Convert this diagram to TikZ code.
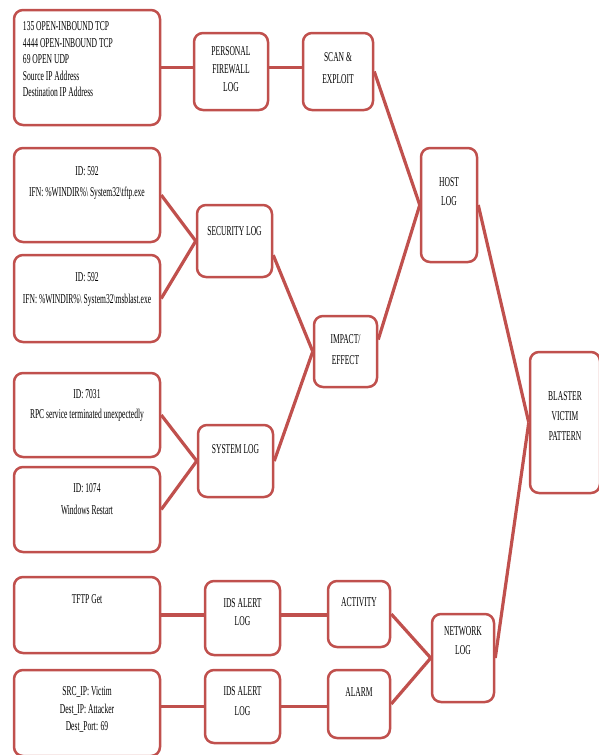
\documentclass[tikz,border=0pt]{standalone}
\usepackage{fontspec}
\setmainfont[FakeStretch=0.56]{Liberation Serif}
\newcommand{\logtxt}[4][15pt]{\parbox[c][#2][t]{#3}{\centering\vspace*{#1}#4}}
\definecolor{boxred}{RGB}{192,80,77}

\begin{document}
\begin{tikzpicture}[x=1pt,y=-1pt, font=\fontsize{13.5}{20}\selectfont,
log/.style = {draw=boxred, line width=2.5pt, rounded corners=9pt, inner sep=0pt, fill=white},
link/.style = {draw=boxred, line width=3.2pt}]

    \useasboundingbox (0,0) rectangle (598,755);

    \node[log](1) at (87,67.5) {\parbox[c][115pt][t]{146pt}{\raggedright\leftskip=9pt\baselineskip=16.5pt\vspace*{12pt}135 OPEN-INBOUND TCP\\4444 OPEN-INBOUND TCP\\69 OPEN UDP\\Source IP Address\\Destination IP Address}};
    \node[log](2) at (231,71.5) {\logtxt[14pt]{77pt}{74pt}{PERSONAL\\[-2pt]FIREWALL\\[-2pt]LOG}};
    \node[log](3) at (338,71.5) {\logtxt[20pt]{77pt}{70pt}{SCAN \&\\[2pt]EXPLOIT}};
    \node[log](4) at (449,205) {\logtxt[30pt]{114pt}{56pt}{HOST\\[-1pt]LOG}};

    \node[log](5) at (87,195) {\logtxt[19pt]{94pt}{146pt}{ID: 592\\[1pt]IFN: \%WINDIR\%\textbackslash{} System32\textbackslash tftp.exe}};
    \node[log](6) at (87,298.5) {\logtxt[18pt]{87pt}{146pt}{ID: 592\\[2pt]IFN: \%WINDIR\%\textbackslash{} System32\textbackslash msblast.exe}};
    \node[log](7) at (234.5,241) {\logtxt[22pt]{72pt}{75pt}{SECURITY LOG}};

    \node[log](8) at (87,415) {\logtxt[17pt]{84pt}{146pt}{ID: 7031\\RPC service terminated unexpectedly}};
    \node[log](9) at (87,509.5) {\logtxt[17pt]{85pt}{146pt}{ID: 1074\\[2pt]Windows Restart}};
    \node[log](10) at (235.5,461) {\logtxt[20pt]{72pt}{75pt}{SYSTEM LOG}};

    \node[log](11) at (345.5,351.5) {\logtxt[19pt]{71pt}{63pt}{IMPACT/\\[1pt]EFFECT}};

    \node[log](12) at (87,615) {\logtxt[18pt]{76pt}{146pt}{TFTP Get}};
    \node[log](13) at (87,713) {\logtxt[17pt]{86pt}{146pt}{SRC\_IP: Victim\\[-2.5pt]Dest\_IP: Attacker\\[-2.5pt]Dest\_Port: 69}};
    \node[log](14) at (242.5,618) {\logtxt[18pt]{74pt}{75pt}{IDS ALERT\\[-2pt]LOG}};
    \node[log](15) at (242.5,706.5) {\logtxt[17pt]{73pt}{75pt}{IDS ALERT\\LOG}};
    \node[log](16) at (359,614) {\logtxt[17pt]{66pt}{62pt}{ACTIVITY}};
    \node[log](17) at (359,704) {\logtxt[18pt]{68pt}{62pt}{ALARM}};
    \node[log](18) at (463,658) {\logtxt[13pt]{88pt}{62pt}{NETWORK\\[-1pt]LOG}};

    \node[log](19) at (565,422.5) {\logtxt[40pt]{141pt}{70pt}{BLASTER\\VICTIM\\PATTERN}};

    \draw [link] (1.east) -- (1.east -| 2.west);
    \draw [link] (1.east -| 2.east) -- (1.east -| 3.west);
    \draw [link] (3.east) -- (4.west);

    \draw [link] (5.east) -- (7.west);
    \draw [link] (6.east) -- (7.west);
    \draw [link] (7.-20) -- (11.west);

    \draw [link] (8.east) -- (10.west);
    \draw [link] (9.east) -- (10.west);
    \draw [link] (10.east) -- (11.west);

    \draw [link] (11.20) -- (4.west);
    \draw [link] (4.east) -- (19.west);

    \draw [link] (12.east) -- (12.east -| 14.west);
    \draw [link] (13.east |- 15.west) -- (15.west);
    \draw [link] (12.east -| 14.east) -- (12.east -| 16.west);
    \draw [link] (15.east) -- (15.east -| 17.west);
    \draw [link] (16.east) -- (18.west);
    \draw [link] (17.east) -- (18.west);
    \draw [link] (18.east) -- (19.west);

\end{tikzpicture}
\end{document}
